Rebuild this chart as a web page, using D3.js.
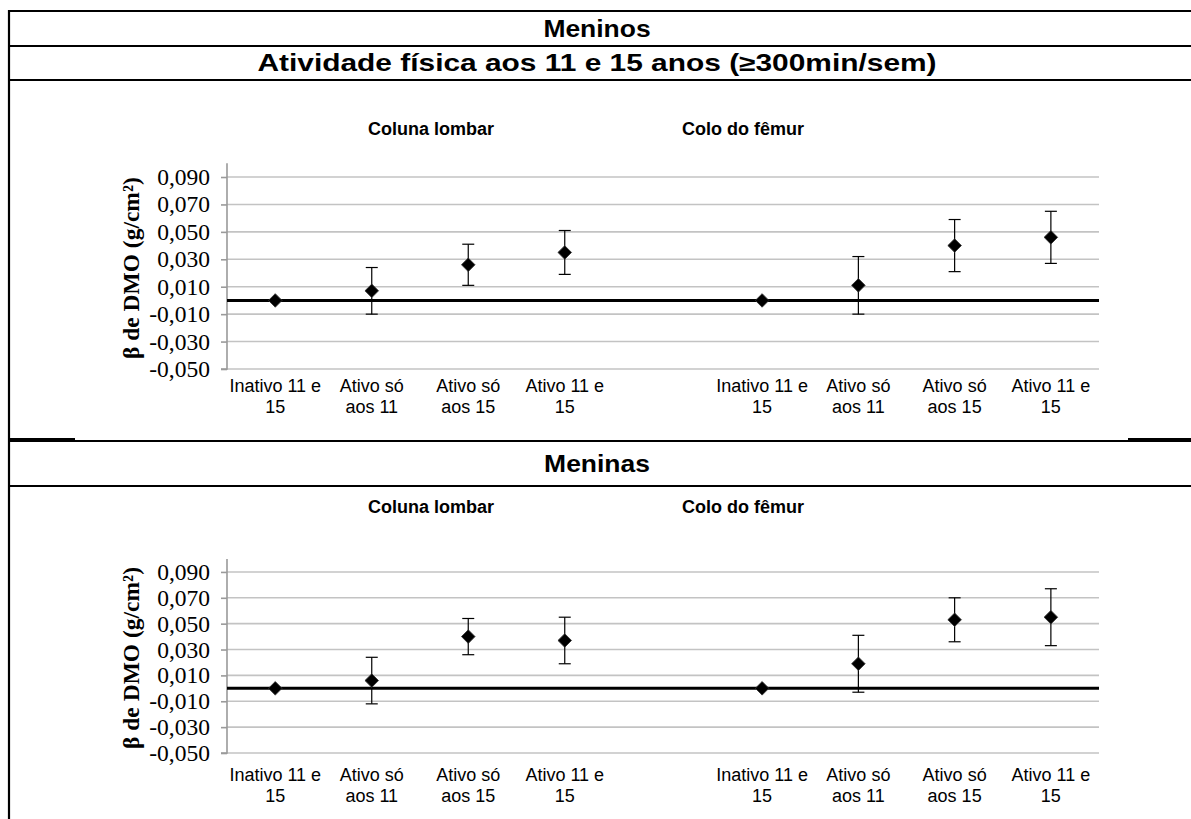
<!DOCTYPE html>
<html>
<head>
<meta charset="utf-8">
<script src="https://cdn.jsdelivr.net/npm/d3@7"></script>
<style>
  html, body { margin: 0; padding: 0; background: #fff; }
  svg { display: block; }
</style>
</head>
<body>
<svg id="chart" width="1191" height="819"></svg>
<script>
// ---------- data ----------
const categories = [["Inativo 11 e", "15"], ["Ativo só", "aos 11"], ["Ativo só", "aos 15"], ["Ativo 11 e", "15"]];
const yTicks = [-0.05, -0.03, -0.01, 0.01, 0.03, 0.05, 0.07, 0.09];
const yDomain = [-0.05, 0.10];

const meninosLombar = [0, 0.007, 0.026, 0.035];
const meninosLombarLow = [null, -0.010, 0.011, 0.019];
const meninosLombarHigh = [null, 0.024, 0.041, 0.051];

const meninosFemur = [0, 0.011, 0.040, 0.046];
const meninosFemurLow = [null, -0.010, 0.021, 0.027];
const meninosFemurHigh = [null, 0.032, 0.059, 0.065];

const meninasLombar = [0, 0.006, 0.040, 0.037];
const meninasLombarLow = [null, -0.012, 0.026, 0.019];
const meninasLombarHigh = [null, 0.024, 0.054, 0.055];

const meninasFemur = [0, 0.019, 0.053, 0.055];
const meninasFemurLow = [null, -0.003, 0.036, 0.033];
const meninasFemurHigh = [null, 0.041, 0.070, 0.077];

const headerMeninos = "Meninos";
const headerTitle = "Atividade física aos 11 e 15 anos (≥300min/sem)";
const headerMeninas = "Meninas";
const panelTitles = ["Coluna lombar", "Colo do fêmur"];
const yAxisTitle = "β de DMO (g/cm²)";

// ---------- drawing ----------
const svg = d3.select("#chart");
const SANS = "'Liberation Sans', Arial, sans-serif";
const SERIF = "'Liberation Serif', 'Times New Roman', serif";
const W = 1191, H = 819;

svg.append("rect").attr("width", W).attr("height", H).attr("fill", "#fff");

// table lines
const tbl = svg.append("g").attr("stroke", "#000").attr("stroke-width", 2.2);
tbl.append("line").attr("x1", 9).attr("x2", W).attr("y1", 11).attr("y2", 11);
tbl.append("line").attr("x1", 9).attr("x2", W).attr("y1", 46).attr("y2", 46);
tbl.append("line").attr("x1", 9).attr("x2", W).attr("y1", 80).attr("y2", 80);
tbl.append("line").attr("x1", 9).attr("x2", W).attr("y1", 441).attr("y2", 441);
tbl.append("line").attr("x1", 9).attr("x2", 75).attr("y1", 439).attr("y2", 439);
tbl.append("line").attr("x1", 1128).attr("x2", W).attr("y1", 439).attr("y2", 439);
tbl.append("line").attr("x1", 9).attr("x2", W).attr("y1", 486).attr("y2", 486);
tbl.append("line").attr("x1", 9).attr("x2", 9).attr("y1", 10).attr("y2", H);

function header(text, y, sx) {
  svg.append("text").attr("transform", `translate(597,${y}) scale(${sx},1)`)
    .attr("text-anchor", "middle").attr("dominant-baseline", "central")
    .attr("font-family", SANS).attr("font-weight", "bold").attr("font-size", 23)
    .text(text);
}
header(headerMeninos, 29, 1.15);
header(headerTitle, 63, 1.3);
header(headerMeninas, 464, 1.15);

function chartBlock(cfg) {
  const g = svg.append("g");
  const y = d3.scaleLinear().domain(yDomain).range([cfg.yBottom, cfg.yTop]);
  const xL = d3.scaleBand().domain(d3.range(categories.length)).range([227, 613]);
  const xR = d3.scaleBand().domain(d3.range(categories.length)).range([714, 1099]);
  const x0 = 227, x1 = 1099;

  // gridlines
  g.append("g").selectAll("line").data(yTicks).join("line")
    .attr("x1", x0).attr("x2", x1)
    .attr("y1", d => y(d)).attr("y2", d => y(d))
    .attr("stroke", "#c3c3c3").attr("stroke-width", 1.6);

  // y axis
  const axis = d3.axisLeft(y).tickValues(yTicks).tickSize(6).tickPadding(11)
    .tickFormat(d => d3.format(".3f")(d).replace(".", ",").replace("−", "-"));
  const ag = g.append("g").attr("transform", `translate(${x0},0)`).call(axis);
  ag.select(".domain").attr("stroke", "#9a9a9a").attr("stroke-width", 1.6)
    .attr("d", `M-6,${y(yDomain[0])}H0V${y(yDomain[1])}`);
  ag.selectAll(".tick line").attr("stroke", "#9a9a9a").attr("stroke-width", 1.6);
  ag.selectAll(".tick text").attr("font-family", SERIF).attr("font-size", 23.5)
    .attr("fill", "#000");

  // y axis title
  g.append("text")
    .attr("transform", `translate(${131},${(y(yDomain[0]) + y(yDomain[1])) / 2 + 2}) rotate(-90)`)
    .attr("text-anchor", "middle").attr("dominant-baseline", "central")
    .attr("font-family", SERIF).attr("font-weight", "bold").attr("font-size", 23.5)
    .text(yAxisTitle);

  // zero line
  g.append("line").attr("x1", x0).attr("x2", x1)
    .attr("y1", y(0)).attr("y2", y(0))
    .attr("stroke", "#000").attr("stroke-width", 3);

  // panel titles
  g.append("text").attr("x", 431).attr("y", cfg.titleY)
    .attr("text-anchor", "middle").attr("dominant-baseline", "central")
    .attr("font-family", SANS).attr("font-weight", "bold").attr("font-size", 18)
    .text(panelTitles[0]);
  g.append("text").attr("x", 743).attr("y", cfg.titleY)
    .attr("text-anchor", "middle").attr("dominant-baseline", "central")
    .attr("font-family", SANS).attr("font-weight", "bold").attr("font-size", 18)
    .text(panelTitles[1]);

  const diamond = d3.symbol(d3.symbolSquare, 92)();

  [[xL, cfg.left], [xR, cfg.right]].forEach(([x, s]) => {
    const cx = i => x(i) + x.bandwidth() / 2;
    // category labels
    const lab = g.append("g");
    categories.forEach((lines, i) => {
      const t = lab.append("text").attr("x", cx(i)).attr("y", cfg.labelY)
        .attr("text-anchor", "middle").attr("font-family", SANS).attr("font-size", 18)
        .attr("fill", "#000");
      lines.forEach((ln, k) => t.append("tspan").attr("x", cx(i)).attr("dy", k === 0 ? 0 : 21).text(ln));
    });
    // error bars
    const idx = d3.range(s.v.length).filter(i => s.lo[i] !== null);
    const eb = g.append("g").attr("stroke", "#000").attr("stroke-width", 1.2);
    eb.selectAll("line.v").data(idx).join("line").attr("class", "v")
      .attr("x1", cx).attr("x2", cx)
      .attr("y1", i => y(s.lo[i])).attr("y2", i => y(s.hi[i]));
    eb.selectAll("line.hi").data(idx).join("line").attr("class", "hi")
      .attr("x1", i => cx(i) - 6).attr("x2", i => cx(i) + 6)
      .attr("y1", i => y(s.hi[i])).attr("y2", i => y(s.hi[i]));
    eb.selectAll("line.lo").data(idx).join("line").attr("class", "lo")
      .attr("x1", i => cx(i) - 6).attr("x2", i => cx(i) + 6)
      .attr("y1", i => y(s.lo[i])).attr("y2", i => y(s.lo[i]));
    // markers
    g.append("g").selectAll("path").data(s.v).join("path")
      .attr("d", diamond)
      .attr("transform", (d, i) => `translate(${cx(i)},${y(d)}) rotate(45)`)
      .attr("fill", "#000").attr("stroke", "#333").attr("stroke-width", 0.8);
  });
}

chartBlock({
  yBottom: 369, yTop: 163.3, titleY: 129, labelY: 392,
  left: { v: meninosLombar, lo: meninosLombarLow, hi: meninosLombarHigh },
  right: { v: meninosFemur, lo: meninosFemurLow, hi: meninosFemurHigh }
});
chartBlock({
  yBottom: 753, yTop: 559, titleY: 507, labelY: 781,
  left: { v: meninasLombar, lo: meninasLombarLow, hi: meninasLombarHigh },
  right: { v: meninasFemur, lo: meninasFemurLow, hi: meninasFemurHigh }
});
</script>
</body>
</html>
